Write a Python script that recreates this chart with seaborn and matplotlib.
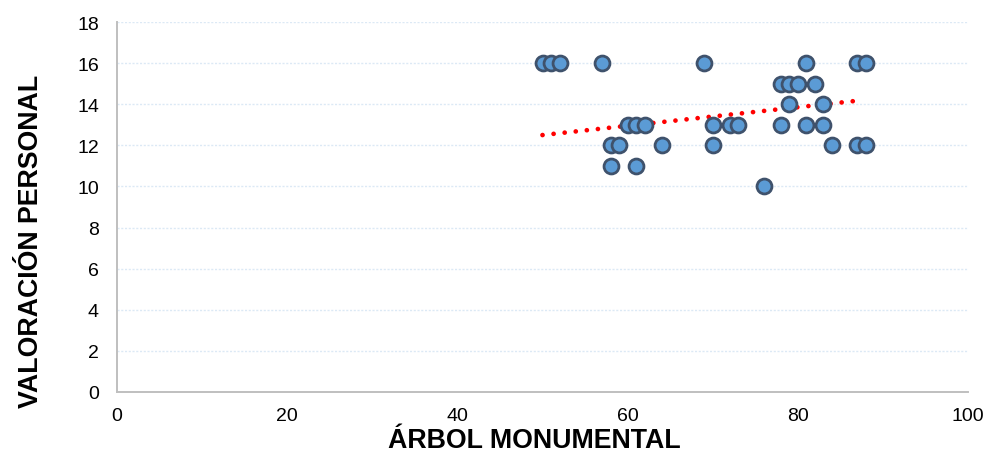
import numpy as np
import pandas as pd
import matplotlib
matplotlib.use("Agg")
import matplotlib.pyplot as plt
import seaborn as sns

# Data
arbol = [50, 51, 52, 57, 69, 81, 87, 88,
         78, 79, 80, 82,
         79, 83,
         60, 61, 62, 70, 72, 73, 78, 81, 83,
         58, 59, 64, 70, 84, 87, 88,
         58, 61,
         76]
valoracion = [16, 16, 16, 16, 16, 16, 16, 16,
              15, 15, 15, 15,
              14, 14,
              13, 13, 13, 13, 13, 13, 13, 13, 13,
              12, 12, 12, 12, 12, 12, 12,
              11, 11,
              10]
# Linear trendline (start and end)
trend_x = [50, 87]
trend_y = [12.5, 14.17]
x_ticks = [0, 20, 40, 60, 80, 100]
y_ticks = [0, 2, 4, 6, 8, 10, 12, 14, 16, 18]

df = pd.DataFrame({"arbol": arbol, "valoracion": valoracion})
trend = pd.DataFrame({"x": trend_x, "y": trend_y})

sns.set_theme(style="white")
plt.rcParams['font.family'] = ['Liberation Sans', 'DejaVu Sans']
plt.rcParams['text.color'] = 'black'
plt.rcParams['axes.labelcolor'] = 'black'

fig = plt.figure(figsize=(9.89, 4.56), dpi=100)
ax = fig.add_axes([117/989, 1-393/456, (968-117)/989, (393-23)/456])

for yv in y_ticks[1:]:
    ax.axhline(yv, color="#DCE9F5", lw=1.0, ls=(0, (1.5, 1.2)), zorder=0)

sns.lineplot(data=trend, x="x", y="y", ax=ax, color="#FF0000", lw=3.4,
             linestyle=(0, (0.01, 2.35)), dash_capstyle="round", zorder=2)

sns.scatterplot(data=df, x="arbol", y="valoracion", ax=ax, s=115,
                color="#5B9BD5", edgecolor="#3F526C", linewidth=2.0, zorder=3)

ax.set_xlim(0, 100)
ax.set_ylim(0, 18)
ax.set_xticks(x_ticks)
ax.set_yticks(y_ticks)
ax.tick_params(axis="both", labelsize=14, colors="#000000", length=5,
               width=1.2, direction="out", color="#BFBFBF")
ax.tick_params(axis="x", pad=6)
ax.tick_params(axis="y", pad=8)
for s in ["top", "right"]:
    ax.spines[s].set_visible(False)
for s in ["left", "bottom"]:
    ax.spines[s].set_color("#BFBFBF")
    ax.spines[s].set_linewidth(1.4)

ax.set_xlabel("ÁRBOL MONUMENTAL", fontsize=19.3, fontweight="bold", labelpad=2)
ax.set_ylabel("VALORACIÓN PERSONAL", fontsize=19.3, fontweight="bold", labelpad=23.5)
ax.xaxis.label.set_x(0.49)
ax.yaxis.label.set_y(0.41)

fig.savefig("out.png", dpi=100)
